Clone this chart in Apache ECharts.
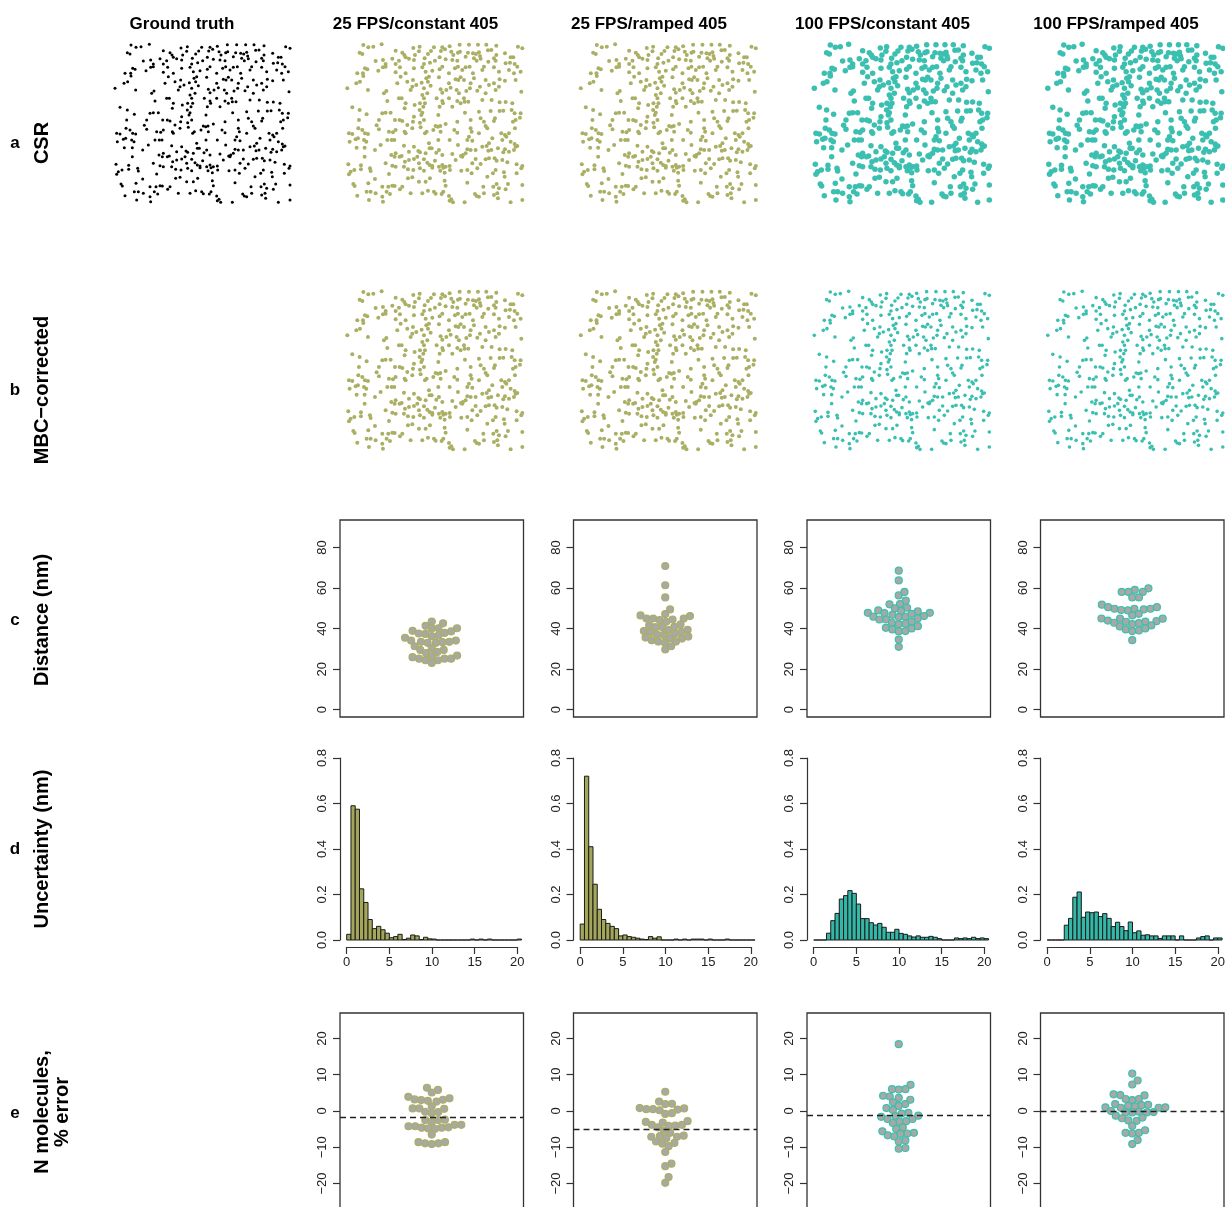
<!DOCTYPE html>
<html><head><meta charset="utf-8">
<script src="https://cdn.jsdelivr.net/npm/echarts@6/dist/echarts.min.js"></script>
<style>html,body{margin:0;padding:0;background:#fff}#c{width:1225px;height:1207px}</style>
</head><body><div id="c"></div>
<script>
// ---------------- data ----------------
const columnTitles = ['Ground truth', '25 FPS/constant 405', '25 FPS/ramped 405', '100 FPS/constant 405', '100 FPS/ramped 405'];
const rowLetters = ['a', 'b', 'c', 'd', 'e'];
const rowTitles = ['CSR', 'MBC\u2212corrected', 'Distance (nm)', 'Uncertainty (nm)', 'N molecules,\n% error'];

// ground-truth molecule positions (image units, x 15..543, y 12..489 downward)
const gtPoints = [
[63,15],[78,22],[93,20],[118,13],[213,24],[232,20],[275,22],[300,22],[322,19],[352,14],[380,14],[407,14],[432,14],[462,17],[527,20],[540,25],
[52,38],[60,42],[160,32],[180,38],[186,45],[218,45],[230,34],[257,42],[266,33],[296,33],[308,28],[327,35],[333,45],[347,38],[353,35],[377,38],[392,40],[401,42],[410,37],[413,48],[437,31],[447,30],[462,45],[488,40],[505,52],
[100,63],[122,60],[130,72],[150,56],[160,72],[170,62],[190,52],[200,56],[215,60],[245,72],[247,55],[263,68],[278,62],[292,52],[310,58],[330,60],[345,62],[370,50],[395,55],[403,62],[415,56],[438,65],[455,55],[460,62],[490,70],[503,68],[517,72],[525,80],[513,52],
[68,85],[75,88],[62,100],[45,100],[108,92],[122,82],[130,80],[160,97],[190,100],[173,82],[215,85],[240,82],[250,95],[270,92],[300,80],[292,88],[320,100],[338,85],[347,80],[360,90],[370,82],[382,80],[392,100],[420,90],[425,80],[455,82],[470,95],[500,90],[515,100],[535,95],
[53,125],[42,130],[63,108],[165,130],[175,110],[195,125],[212,120],[238,128],[252,115],[260,110],[257,125],[290,112],[320,130],[340,118],[348,120],[355,112],[365,120],[385,130],[395,115],[430,120],[440,135],[455,130],[472,118],[488,122],[520,120],
[15,145],[77,150],[125,160],[132,153],[205,150],[210,140],[222,135],[245,145],[265,137],[295,148],[300,158],[312,150],[325,143],[343,150],[350,160],[372,153],[383,145],[405,152],[413,140],[430,160],[460,150],[470,140],[537,155],[255,160],[240,165],
[135,183],[170,175],[178,175],[245,175],[248,190],[283,175],[300,183],[302,190],[320,175],[345,183],[355,190],[365,175],[367,185],[378,185],[420,180],[448,180],[472,187],[490,186],[510,190],[190,190],[233,190],[217,195],
[30,202],[52,210],[120,220],[130,218],[145,218],[187,205],[232,210],[243,200],[237,225],[240,218],[288,225],[292,200],[330,200],[368,218],[410,215],[445,213],[472,213],[483,212],[508,210],[517,220],[535,220],[73,223],
[50,240],[110,240],[158,240],[172,240],[180,243],[215,230],[212,245],[233,248],[245,240],[280,258],[294,258],[345,245],[385,240],[415,235],[425,245],[430,258],[455,243],[458,235],[512,245],[520,240],[533,233],[103,256],[195,255],[310,252],
[20,280],[30,282],[48,265],[60,270],[68,280],[77,282],[110,268],[140,275],[152,277],[160,270],[187,275],[190,280],[210,265],[235,262],[248,280],[253,275],[273,270],[287,260],[295,275],[336,270],[345,278],[385,265],[388,275],[410,280],[435,265],[477,280],[488,285],[500,280],[518,265],
[22,305],[40,298],[47,295],[65,300],[72,305],[115,315],[135,300],[148,300],[156,300],[185,317],[215,320],[260,310],[288,300],[322,300],[347,315],[375,300],[380,290],[390,302],[420,320],[433,318],[440,310],[450,295],[480,300],[492,290],[505,305],[517,312],[525,318],
[43,323],[67,323],[98,330],[147,345],[157,350],[160,340],[200,335],[228,333],[233,337],[250,340],[262,325],[268,325],[282,338],[290,330],[300,345],[330,342],[360,350],[370,340],[375,328],[385,330],[400,330],[438,332],[447,330],[467,325],[483,337],[488,328],[500,335],[515,330],[520,320],
[18,373],[56,376],[67,350],[130,370],[150,377],[172,350],[178,348],[188,365],[200,360],[215,357],[225,350],[230,370],[245,358],[255,368],[262,375],[270,378],[278,362],[290,380],[300,375],[310,380],[322,378],[340,360],[356,348],[362,345],[390,370],[400,357],[415,372],[430,358],[440,355],[457,355],[463,362],[480,360],[495,367],[523,373],[540,378],
[20,403],[25,395],[36,390],[56,388],[83,385],[85,393],[140,402],[160,380],[185,380],[197,388],[213,390],[233,385],[245,392],[270,383],[294,392],[303,383],[307,398],[323,390],[357,392],[375,390],[388,400],[405,385],[452,400],[460,390],[485,397],[537,385],[523,400],
[33,432],[37,438],[78,430],[98,417],[120,440],[138,440],[150,437],[157,438],[180,440],[197,415],[210,412],[230,425],[250,425],[263,415],[307,422],[310,437],[375,428],[423,440],[435,410],[453,440],[463,432],[487,410],[497,432],[540,435],
[45,467],[73,455],[85,455],[80,480],[100,460],[120,470],[122,485],[133,455],[143,462],[173,448],[205,460],[240,460],[257,452],[275,455],[280,461],[298,462],[303,455],[320,468],[322,482],[327,478],[332,487],[367,487],[398,462],[403,468],[410,470],[425,460],[455,465],[465,460],[467,475],[470,445],[490,448],[505,487],[540,480]
];

// row c: nearest-neighbour distance (nm), one value per simulation
const distance25const = [43.5,42.6,41.4,40.2,40.2,40.1,38.9,38.6,37.9,37.4,36.6,37.6,36.3,35.5,34.1,33.5,34.1,33.5,33.3,33.0,33.0,31.3,30.4,29.5,29.5,28.5,27.9,26.7,26.4,25.2,25.2,25.9,24.4,25.2,24.4,23.1];
const distance25ramp = [70.9,61.4,55.4,49.5,47.2,46.5,46.2,45.0,44.5,45.0,45.0,44.2,43.4,42.1,41.6,40.9,40.7,40.7,38.8,38.3,39.3,38.4,39.4,37.4,36.9,37.1,36.1,35.3,35.6,35.1,34.3,33.6,33.6,33.0,31.3,29.7];
const distance100const = [68.6,63.8,56.4,58.1,53.8,52.1,52.0,50.0,50.3,47.8,49.0,47.8,46.8,48.8,48.5,47.7,46.2,45.0,44.5,45.7,45.9,47.3,45.9,44.5,42.9,42.2,42.4,43.5,40.4,39.6,38.6,38.8,40.1,41.2,34.6,31.0];
const distance100ramp = [59.9,59.1,58.1,58.1,58.1,55.4,55.4,51.8,50.6,49.8,49.8,49.5,49.0,49.2,49.8,50.6,47.3,46.5,44.9,45.0,44.0,43.5,43.4,42.7,42.9,44.9,43.7,42.2,41.1,41.6,39.6,38.8,39.1,40.1,34.3];

// row d: localisation uncertainty density, bins of 0.5 nm from 0 to 20.5 nm
const uncBinWidth = 0.5;
const uncertainty25const = [0.025,0.59,0.575,0.225,0.165,0.09,0.05,0.06,0.045,0.03,0.01,0.015,0.025,0.002,0.008,0.022,0.018,0.002,0.012,0.005,0.004,0,0,0,0,0,0,0,0,0.004,0,0.004,0,0.004,0,0,0,0,0,0,0.004];
const uncertainty25ramp = [0.07,0.72,0.41,0.245,0.135,0.09,0.073,0.06,0.05,0.018,0.022,0.015,0.012,0.008,0.004,0.002,0.015,0.008,0.014,0,0,0,0.004,0,0.004,0,0.004,0.004,0.004,0,0.004,0,0,0,0.004,0,0,0,0,0,0];
const uncertainty100const = [0,0,0,0.03,0.085,0.117,0.18,0.195,0.217,0.205,0.158,0.094,0.094,0.076,0.066,0.073,0.056,0.034,0.034,0.047,0.029,0.025,0.018,0.013,0.018,0.012,0.012,0.016,0.012,0.006,0,0,0,0.009,0.006,0.009,0.006,0.012,0.006,0.009,0.006];
const uncertainty100ramp = [0,0,0,0,0.065,0.095,0.188,0.211,0.1,0.123,0.12,0.123,0.103,0.116,0.095,0.059,0.078,0.059,0.041,0.079,0.032,0.04,0.021,0.023,0.018,0.018,0.007,0.018,0.018,0.018,0,0.018,0,0,0,0.009,0.015,0.018,0,0.009,0.009];

// row e: % error in number of molecules
const error25const = [6.4,5.8,5.1,3.9,3.1,3.0,2.6,2.8,3.2,3.5,1.3,0.6,0.7,0.7,-0.2,-0.6,-0.3,-2.4,-2.5,-2.5,-3.0,-3.8,-4.2,-4.6,-4.8,-4.9,-4.6,-4.5,-4.2,-3.8,-6.5,-8.6,-8.9,-9.1,-8.9,-8.6];
const error25ramp = [5.3,2.6,2.0,1.9,0.7,0.4,0.2,0.5,0.5,0.8,-0.8,-0.6,-3.0,-3.2,-2.8,-4.1,-3.8,-4.5,-4.0,-3.8,-5.4,-6.0,-6.8,-7.1,-7.1,-6.9,-7.5,-8.8,-9.0,-8.4,-9.7,-11.3,-14.5,-15.2,-18.2,-19.8];
const error100const = [18.4,7.2,6.0,5.9,6.0,4.2,4.0,3.6,3.1,2.4,1.9,1.4,0.8,0.3,-0.5,-0.7,-1.4,-1.6,-1.3,-2.2,-2.2,-2.9,-2.8,-3.3,-4.5,-4.9,-5.6,-6.0,-6.2,-6.7,-7.0,-6.3,-8.1,-8.4,-10.2,-10.4];
const error100ramp = [10.3,8.4,7.3,4.4,4.6,4.3,3.3,3.0,3.3,1.9,1.6,1.3,0.9,1.0,0.9,1.0,1.4,1.7,-0.4,-0.2,-0.4,0.0,-0.4,-0.3,-1.3,-2.0,-2.6,-2.7,-1.8,-4.1,-6.0,-6.2,-6.0,-5.3,-8.0,-9.1];
const errorMean = [-1.6, -5.0, -1.1, 0.0];

const distTicks = [0, 20, 40, 60, 80];
const uncTicksY = [0, 0.2, 0.4, 0.6, 0.8];
const uncTicksX = [0, 5, 10, 15, 20];
const errTicks = [-20, -10, 0, 10, 20];

const distanceSets = [distance25const, distance25ramp, distance100const, distance100ramp];
const uncertaintySets = [uncertainty25const, uncertainty25ramp, uncertainty100const, uncertainty100ramp];
const errorSets = [error25const, error25ramp, error100const, error100ramp];

// ---------------- styling / layout ----------------
const OLIVE = '#ABAF63', OLIVE_H = '#A4A75A', TEAL = '#3BBFB0', TEAL_H = '#33B7A7';
const colColors = [OLIVE, OLIVE, TEAL, TEAL];
const colHist = [OLIVE_H, OLIVE_H, TEAL_H, TEAL_H];
const FONT = 'Liberation Sans, Arial, Helvetica, sans-serif';
const AX = '#333';
const boxLefts = [340, 573.5, 807, 1040.5];
const BOXW = 183.5;
const scatLefts = [115, 347.3, 580.8, 814.3, 1047.8];
const SCW = 176, SCH = 159;

const grids = [], xAxes = [], yAxes = [], series = [];
function addGrid(g, xa, ya) {
  grids.push(Object.assign({outerBoundsMode: 'none', containLabel: false}, g));
  const gi = grids.length - 1;
  xAxes.push(Object.assign({gridIndex: gi}, xa));
  yAxes.push(Object.assign({gridIndex: gi}, ya));
  return gi;
}

// beeswarm ("swarm") layout in pixels, lowest value first
function swarm(values, pxPerUnit, d) {
  const order = values.map((v, i) => i).sort((a, b) => values[a] - values[b]);
  const placed = [], xs = new Array(values.length);
  for (const i of order) {
    const y = values[i] * pxPerUnit;
    const near = placed.filter(p => Math.abs(p.y - y) < d);
    const cands = [0];
    near.forEach(p => { const dx = Math.sqrt(d * d - (p.y - y) * (p.y - y)); cands.push(p.x + dx, p.x - dx); });
    const ok = cands.filter(c => near.every(p => (p.x - c) * (p.x - c) + (p.y - y) * (p.y - y) >= d * d - 1e-6));
    ok.sort((a, b) => Math.abs(a) - Math.abs(b));
    xs[i] = ok[0];
    placed.push({x: ok[0], y});
  }
  return xs;
}

const labelStyle = {color: '#222', fontFamily: FONT, fontSize: 13};
const minus = v => String(v).replace('-', '\u2212');

// rows a and b: point patterns
const scatterSpecs = [
  {row: 0, col: 0, color: '#000', size: 3},
  {row: 0, col: 1, color: OLIVE, size: 4},
  {row: 0, col: 2, color: OLIVE, size: 4},
  {row: 0, col: 3, color: TEAL, size: 5.5},
  {row: 0, col: 4, color: TEAL, size: 5.5},
  {row: 1, col: 1, color: OLIVE, size: 4},
  {row: 1, col: 2, color: OLIVE, size: 4},
  {row: 1, col: 3, color: TEAL, size: 3.6},
  {row: 1, col: 4, color: TEAL, size: 3.6}
];
scatterSpecs.forEach(s => {
  const gi = addGrid({left: scatLefts[s.col], top: s.row === 0 ? 44 : 291, width: SCW, height: SCH},
    {type: 'value', min: 15, max: 543, show: false},
    {type: 'value', min: 12, max: 489, inverse: true, show: false});
  series.push({type: 'scatter', xAxisIndex: gi, yAxisIndex: gi, data: gtPoints, symbolSize: s.size,
    itemStyle: {color: s.color, opacity: 1}, silent: true});
});

// row c: distance beeswarms
for (let k = 0; k < 4; k++) {
  const top = 520, h = 197, ymin = -3.6, ymax = 93.6;
  const gi = addGrid({left: boxLefts[k], top, width: BOXW, height: h, show: true, borderColor: AX, borderWidth: 1.3},
    {type: 'value', min: -BOXW / 2, max: BOXW / 2, show: false, axisLine: {onZero: false}},
    {type: 'value', min: ymin, max: ymax, position: 'left', axisLine: {show: false, onZero: false}, splitLine: {show: false},
     axisTick: {show: true, customValues: distTicks, length: 7, lineStyle: {color: AX, width: 1.2}},
     axisLabel: Object.assign({customValues: distTicks, rotate: 90, margin: 11}, labelStyle)});
  const vals = distanceSets[k];
  const xs = swarm(vals, h / (ymax - ymin), 6.7);
  series.push({type: 'scatter', xAxisIndex: gi, yAxisIndex: gi, data: vals.map((v, i) => [xs[i], v]),
    symbolSize: 7, itemStyle: {color: '#A8A8A4', borderColor: colColors[k], borderWidth: 1.2, opacity: 1}, silent: true});
}

// row d: uncertainty histograms
for (let k = 0; k < 4; k++) {
  const gi = addGrid({left: boxLefts[k] + 6.7, top: 758, width: 170.6, height: 182},
    {type: 'value', min: 0, max: 20, offset: 7, position: 'bottom', splitLine: {show: false},
     axisLine: {show: true, onZero: false, lineStyle: {color: AX, width: 1.2}},
     axisTick: {show: true, customValues: uncTicksX, length: 7, lineStyle: {color: AX, width: 1.2}},
     axisLabel: Object.assign({customValues: uncTicksX, margin: 9}, labelStyle)},
    {type: 'value', min: 0, max: 0.8, offset: 6.7, position: 'left', splitLine: {show: false},
     axisLine: {show: true, onZero: false, lineStyle: {color: AX, width: 1.2}},
     axisTick: {show: true, customValues: uncTicksY, length: 7, lineStyle: {color: AX, width: 1.2}},
     axisLabel: Object.assign({customValues: uncTicksY, rotate: 90, margin: 11, formatter: v => v.toFixed(1)}, labelStyle)});
  const fill = colHist[k];
  series.push({type: 'custom', xAxisIndex: gi, yAxisIndex: gi, clip: false, silent: true,
    data: uncertaintySets[k].map((h, i) => [i * uncBinWidth, (i + 1) * uncBinWidth, h]),
    encode: {x: [0, 1], y: 2},
    renderItem: (params, api) => {
      const p0 = api.coord([api.value(0), api.value(2)]);
      const p1 = api.coord([api.value(1), 0]);
      return {type: 'rect', shape: {x: p0[0], y: p0[1], width: p1[0] - p0[0], height: p1[1] - p0[1]},
        style: {fill, stroke: '#1a1a1a', lineWidth: 1}};
    }});
}

// row e: % error beeswarms
for (let k = 0; k < 4; k++) {
  const top = 1013, h = 196, ymin = -27, ymax = 27;
  const gi = addGrid({left: boxLefts[k], top, width: BOXW, height: h, show: true, borderColor: AX, borderWidth: 1.3},
    {type: 'value', min: -BOXW / 2, max: BOXW / 2, show: false, axisLine: {onZero: false}},
    {type: 'value', min: ymin, max: ymax, position: 'left', axisLine: {show: false, onZero: false}, splitLine: {show: false},
     axisTick: {show: true, customValues: errTicks, length: 7, lineStyle: {color: AX, width: 1.2}},
     axisLabel: Object.assign({customValues: errTicks, rotate: 90, margin: 11, formatter: minus}, labelStyle)});
  const vals = errorSets[k];
  const xs = swarm(vals, h / (ymax - ymin), 6.7);
  series.push({type: 'scatter', xAxisIndex: gi, yAxisIndex: gi, data: vals.map((v, i) => [xs[i], v]),
    symbolSize: 7, itemStyle: {color: '#A8A8A4', borderColor: colColors[k], borderWidth: 1.2, opacity: 1}, silent: true,
    markLine: {silent: true, symbol: ['none', 'none'], label: {show: false}, z: 10,
      lineStyle: {color: '#222', type: [6, 4], width: 1.3}, data: [{yAxis: errorMean[k]}]}});
}

// text
const graphics = [];
const headerX = [182, 415.5, 649, 882.5, 1116];
columnTitles.forEach((t, i) => graphics.push({type: 'text', x: headerX[i], y: 24,
  style: {text: t, font: 'bold 17px ' + FONT, fill: '#000', align: 'center', verticalAlign: 'middle'}}));
const rowY = [143, 390, 620, 849, 1113];
const titleY = [143, 390, 620, 849, 1112];
rowLetters.forEach((l, i) => graphics.push({type: 'text', x: 15, y: rowY[i],
  style: {text: l, font: 'bold 17px ' + FONT, fill: '#000', align: 'center', verticalAlign: 'middle'}}));
rowTitles.forEach((t, i) => graphics.push({type: 'text', x: i === 4 ? 52 : 42, y: titleY[i], rotation: Math.PI / 2,
  style: {text: t, font: 'bold 20px ' + FONT, fill: '#000', align: 'center', verticalAlign: 'middle', lineHeight: 20}}));

const chart = echarts.init(document.getElementById('c'), null, {renderer: 'canvas'});
chart.setOption({animation: false, backgroundColor: '#fff', grid: grids, xAxis: xAxes, yAxis: yAxes, series, graphic: graphics});
</script></body></html>
